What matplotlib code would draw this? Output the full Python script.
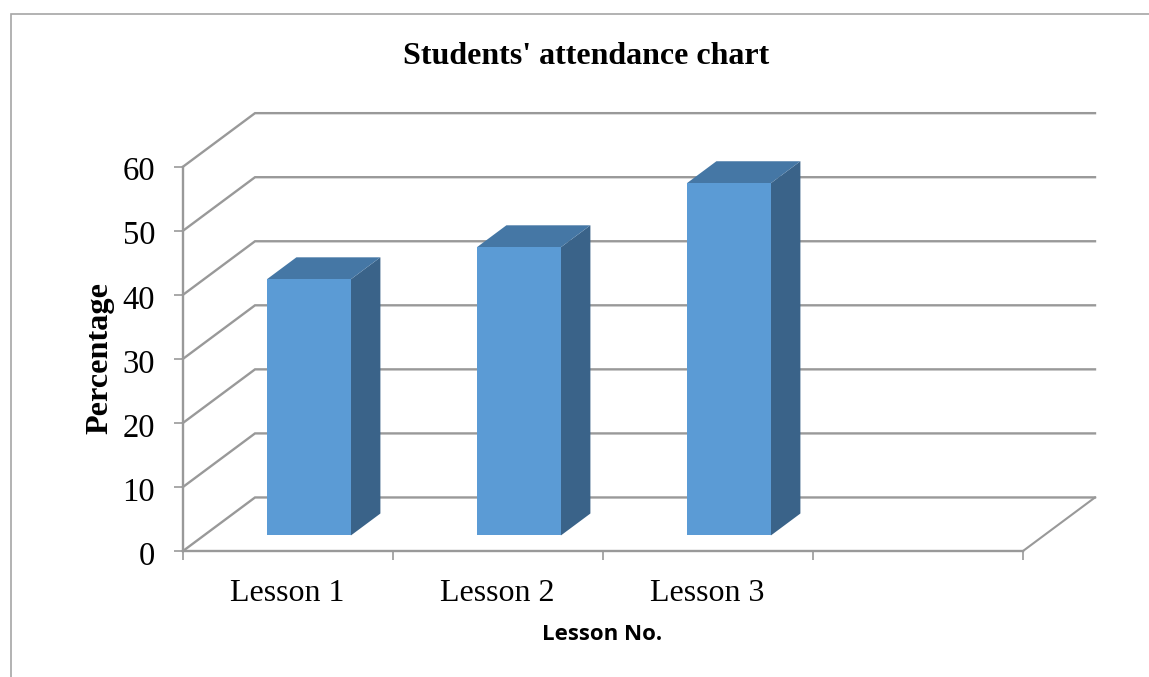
import matplotlib
matplotlib.use('Agg')
import matplotlib.pyplot as plt
from matplotlib.patches import Polygon
from matplotlib.transforms import ScaledTranslation

# datos de la grafica
lessons = ['Lesson 1', 'Lesson 2', 'Lesson 3']
attendance = [40, 45, 55]
y_ticks = [0, 10, 20, 30, 40, 50, 60]
x_ticks = [0, 1, 2, 3, 4]

W, H = 1149, 677
grid_col = '#999999'
front_col = '#5b9bd5'
top_col = '#4577a5'
side_col = '#3a6389'

plt.rcParams['font.family'] = ['Liberation Serif', 'DejaVu Serif']

fig = plt.figure(figsize=(W / 100, H / 100), dpi=100, facecolor='white')
ax = fig.add_axes([183 / W, 1 - 551 / H, 840 / W, 384.3 / H])
ax.set_xlim(0, 4)
ax.set_ylim(0, 60)
ax.patch.set_alpha(0)

# pared del fondo desplazada en diagonal (proyeccion oblicua)
depth_x = 72 / 210
depth_y = 53.5 / 6.4


def proj(x, y, d):
    return x + d * depth_x, y + d * depth_y


for v in y_ticks:
    x0, y0 = proj(0, v, 0)
    x1, y1 = proj(0, v, 1)
    x2, y2 = proj(4, v, 1)
    ax.plot([x0, x1, x2], [y0, y1, y2], color=grid_col, lw=1.7, clip_on=False,
            solid_joinstyle='miter', zorder=1)
x1, y1 = proj(4, 0, 1)
ax.plot([4, x1], [0, y1], color=grid_col, lw=1.5, clip_on=False, zorder=1)

# barras 3d
bar_w = 0.4
d0, d1 = 0.29, 0.70
for i, val in enumerate(attendance):
    left = i + 0.5 - bar_w / 2
    right = i + 0.5 + bar_w / 2
    front = [proj(left, 0, d0), proj(right, 0, d0), proj(right, val, d0), proj(left, val, d0)]
    side = [proj(right, 0, d0), proj(right, 0, d1), proj(right, val, d1), proj(right, val, d0)]
    top = [proj(left, val, d0), proj(right, val, d0), proj(right, val, d1), proj(left, val, d1)]
    ax.add_patch(Polygon(side, closed=True, fc=side_col, ec='none', clip_on=False, zorder=3))
    ax.add_patch(Polygon(top, closed=True, fc=top_col, ec='none', clip_on=False, zorder=3))
    ax.add_patch(Polygon(front, closed=True, fc=front_col, ec='none', clip_on=False, zorder=4))

for s in ['top', 'right']:
    ax.spines[s].set_visible(False)
for s in ['left', 'bottom']:
    ax.spines[s].set_color(grid_col)
    ax.spines[s].set_linewidth(1.7)

ax.set_yticks(y_ticks)
ax.set_xticks(x_ticks)
ax.set_xticklabels([])
ax.set_xticks([i + 0.495 for i in range(len(lessons))], minor=True)
ax.set_xticklabels(lessons, minor=True)
ax.tick_params(axis='both', which='major', length=6.5, width=1.2, color=grid_col)
ax.tick_params(axis='x', which='minor', length=0, labelsize=23, pad=20)
ax.tick_params(axis='y', labelsize=23.5, pad=13.5)

# las etiquetas de y van un poco mas abajo que la marca
for lab in ax.get_yticklabels():
    lab.set_transform(lab.get_transform() + ScaledTranslation(0, -2 / 100, fig.dpi_scale_trans))

fig.text(586 / W, 1 - 56 / H, "Students' attendance chart", fontsize=23, fontweight='bold',
         ha='center', va='center')
fig.text(100 / W, 1 - 358 / H, 'Percentage', fontsize=23.2, fontweight='bold', rotation=90,
         ha='center', va='center')
fig.text(602 / W, 1 - 635 / H, 'Lesson No.', fontsize=16, fontweight='bold', family=['Open Sans', 'DejaVu Sans'],
         ha='center', va='center')

# marco exterior recortado por la imagen
fig.add_artist(plt.Line2D([10.5 / W, 10.5 / W, 1], [0, 1 - 13.5 / H, 1 - 13.5 / H], color='#a6a6a6', lw=1.2,
                          solid_joinstyle='miter'))

fig.savefig('out.png', dpi=100)
